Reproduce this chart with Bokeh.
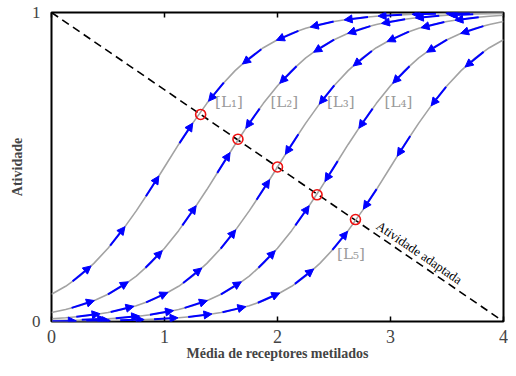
import numpy as np
from bokeh.plotting import figure
from bokeh.models import (Range1d, LinearAxis, FixedTicker, Label, Arrow,
                          NormalHead, ColumnDataSource)
from bokeh.embed import file_html
from bokeh.resources import INLINE

# ---------------- data ----------------
x_grid = np.linspace(0.0, 4.0, 33)   # sampling of "Média de receptores metilados"

act_L1 = [0.088, 0.114, 0.147, 0.188, 0.237, 0.294, 0.358, 0.427, 0.500, 0.573, 0.642,
          0.706, 0.763, 0.812, 0.853, 0.886, 0.912, 0.933, 0.949, 0.961, 0.971, 0.978,
          0.984, 0.988, 0.991, 0.993, 0.995, 0.996, 0.997, 0.998, 0.998, 0.999, 0.999]
act_L2 = [0.029, 0.039, 0.051, 0.067, 0.088, 0.114, 0.147, 0.188, 0.237, 0.294, 0.358,
          0.427, 0.500, 0.573, 0.642, 0.706, 0.763, 0.812, 0.853, 0.886, 0.912, 0.933,
          0.949, 0.961, 0.971, 0.978, 0.984, 0.988, 0.991, 0.993, 0.995, 0.996, 0.997]
act_L3 = [0.009, 0.012, 0.016, 0.022, 0.029, 0.039, 0.051, 0.067, 0.088, 0.114, 0.147,
          0.188, 0.237, 0.294, 0.358, 0.427, 0.500, 0.573, 0.642, 0.706, 0.763, 0.812,
          0.853, 0.886, 0.912, 0.933, 0.949, 0.961, 0.971, 0.978, 0.984, 0.988, 0.991]
act_L4 = [0.003, 0.004, 0.005, 0.007, 0.009, 0.012, 0.016, 0.022, 0.029, 0.039, 0.051,
          0.067, 0.088, 0.114, 0.147, 0.188, 0.237, 0.294, 0.358, 0.427, 0.500, 0.573,
          0.642, 0.706, 0.763, 0.812, 0.853, 0.886, 0.912, 0.933, 0.949, 0.961, 0.971]
act_L5 = [0.001, 0.001, 0.002, 0.002, 0.003, 0.004, 0.005, 0.007, 0.009, 0.012, 0.016,
          0.022, 0.029, 0.039, 0.051, 0.067, 0.088, 0.114, 0.147, 0.188, 0.237, 0.294,
          0.358, 0.427, 0.500, 0.573, 0.642, 0.706, 0.763, 0.812, 0.853, 0.886, 0.912]
curves = [act_L1, act_L2, act_L3, act_L4, act_L5]

# adapted states (red circles)
fixed_x = [1.32, 1.65, 2.00, 2.35, 2.69]
fixed_y = [0.67, 0.59, 0.50, 0.41, 0.33]

# "Atividade adaptada" dashed line
adapt_x = [0.0, 4.0]
adapt_y = [1.0, 0.0]

# curve labels
lig_text = ["[L₁]", "[L₂]", "[L₃]", "[L₄]", "[L₅]"]
lig_x = [1.57, 2.06, 2.56, 3.07, 2.65]
lig_y = [0.71, 0.71, 0.71, 0.71, 0.22]

x_ticks = [0, 1, 2, 3, 4]
y_ticks = [0, 1]

# ---------------- styling / layout ----------------
FRAME_W, FRAME_H = 452, 309
X0, X1, Y0, Y1 = 0.0, 4.0, 0.0, 1.0
BLUE = "#0000ff"
GRAY = "#a3a3a3"
RED = "#ee1111"
SERIF = "Liberation Serif"

p = figure(width=508, height=368, frame_width=FRAME_W, frame_height=FRAME_H,
           x_range=Range1d(X0, X1), y_range=Range1d(Y0, Y1),
           output_backend="svg", toolbar_location=None,
           min_border_left=51, min_border_right=5, min_border_top=12, min_border_bottom=47)
p.background_fill_color = "white"
p.border_fill_color = "white"
p.outline_line_color = "black"
p.outline_line_width = 2
p.xgrid.grid_line_color = None
p.ygrid.grid_line_color = None

# bottom axis
xa = p.xaxis[0]
xa.ticker = FixedTicker(ticks=x_ticks)
xa.axis_line_color = None
xa.major_tick_in = 5
xa.major_tick_out = 0
xa.major_tick_line_width = 1.5
xa.minor_tick_line_color = None
xa.major_label_text_font = SERIF
xa.major_label_text_font_size = "18px"
xa.major_label_standoff = 8
xa.axis_label = "Média de receptores metilados"
xa.axis_label_text_font = SERIF
xa.axis_label_text_font_style = "bold"
xa.axis_label_text_font_size = "14px"
xa.axis_label_standoff = 0

# left axis
ya = p.yaxis[0]
ya.ticker = FixedTicker(ticks=y_ticks)
ya.axis_line_color = None
ya.major_tick_in = 0
ya.major_tick_out = 0
ya.minor_tick_line_color = None
ya.major_label_text_font = SERIF
ya.major_label_text_font_size = "17px"
ya.major_label_standoff = 11
ya.axis_label = "Atividade"
ya.axis_label_text_font = SERIF
ya.axis_label_text_font_style = "bold"
ya.axis_label_text_font_size = "14px"
ya.axis_label_standoff = 4

# top axis: inward ticks only
top = LinearAxis(ticker=FixedTicker(ticks=x_ticks), axis_line_color=None,
                 major_tick_in=5, major_tick_out=0, major_tick_line_width=1.5,
                 minor_tick_line_color=None, major_label_text_font_size="0px",
                 major_label_standoff=0)
top.major_label_overrides = {t: "" for t in x_ticks}
p.add_layout(top, "above")

# dashed adapted-activity line
p.line(adapt_x, adapt_y, line_color="black", line_width=1.6, line_dash="8 5")

# gray response curves
for ys in curves:
    p.line(x_grid, ys, line_color=GRAY, line_width=1.6)

# blue arrows along the curves, pointing to the adapted state
SX = FRAME_W / (X1 - X0)
SY = FRAME_H / (Y1 - Y0)
HEAD0, HEAD_STEP, ARROW_LEN = 0.07, 0.30, 24.0
xd = np.linspace(X0, X1, 4001)
arr = dict(x0=[], y0=[], x1=[], y1=[])
for ys, fx in zip(curves, fixed_x):
    yd = np.interp(xd, x_grid, ys)
    s = np.concatenate([[0.0], np.cumsum(np.hypot(np.diff(xd) * SX, np.diff(yd) * SY))])
    for direction in (-1, 1):
        n = 0
        while True:
            xh = fx + direction * (HEAD0 + n * HEAD_STEP)
            if xh < X0 or xh > X1:
                break
            sh = np.interp(xh, xd, s)
            st = sh + direction * ARROW_LEN
            if st < 0 or st > s[-1]:
                break
            xt = float(np.interp(st, s, xd))
            arr["x0"].append(xt)
            arr["y0"].append(float(np.interp(xt, x_grid, ys)))
            arr["x1"].append(float(xh))
            arr["y1"].append(float(np.interp(xh, x_grid, ys)))
            n += 1

p.add_layout(Arrow(source=ColumnDataSource(arr), x_start="x0", y_start="y0",
                   x_end="x1", y_end="y1", line_color=BLUE, line_width=2,
                   end=NormalHead(size=8, fill_color=BLUE, line_color=BLUE, line_width=1)))

# red circles at adapted states
p.scatter(fixed_x, fixed_y, marker="circle", size=10, fill_color=None,
          line_color=RED, line_width=1.6)

# curve labels
for t, lx, ly in zip(lig_text, lig_x, lig_y):
    p.add_layout(Label(x=lx, y=ly, text=t, text_align="center", text_baseline="middle",
                       text_font="DejaVu Serif", text_font_size="15px",
                       text_color="#9a9a9a"))

p.add_layout(Label(x=3.255, y=0.223, text="Atividade adaptada", angle=-0.6,
                   text_align="center", text_baseline="middle",
                   text_font=SERIF, text_font_size="13px", text_color="black"))

open("out.html", "w").write(file_html(p, INLINE))
